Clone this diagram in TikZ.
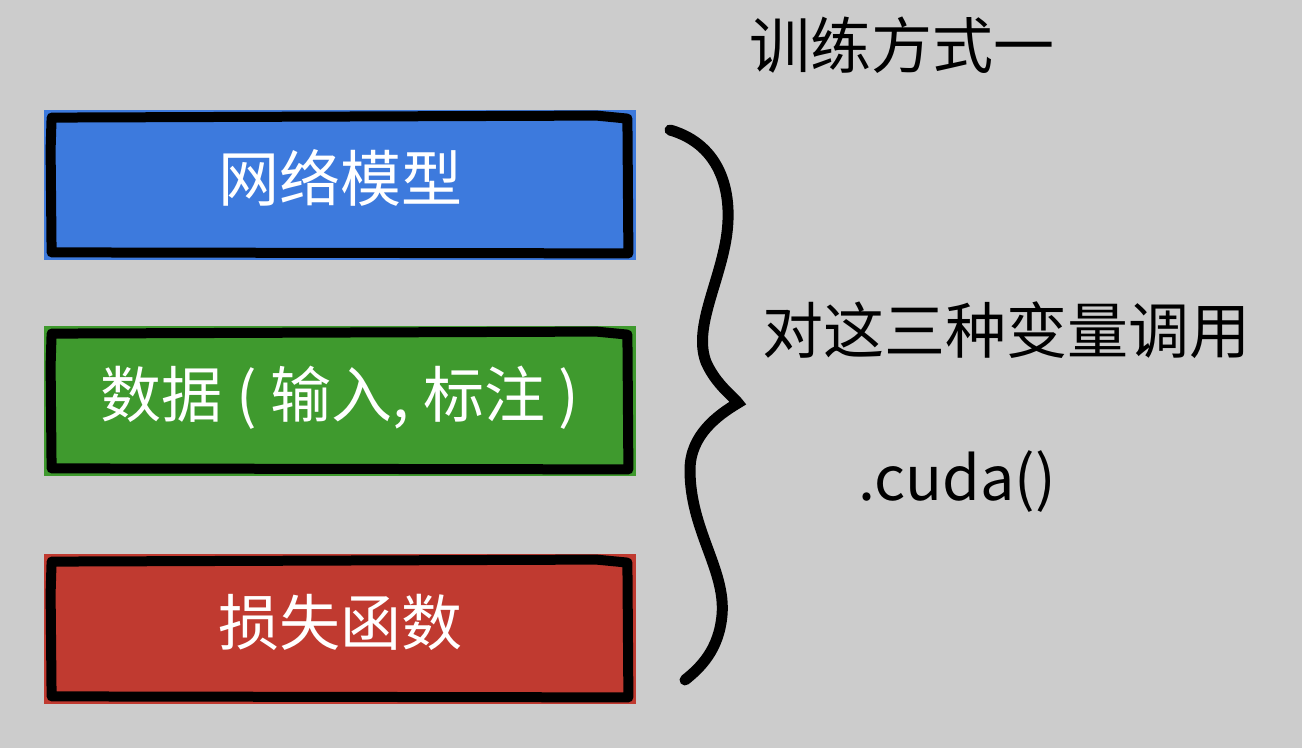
\documentclass[tikz,border=0pt]{standalone}
\usepackage{fontspec}
\setmainfont{Noto Sans CJK SC}
\definecolor{bg}{HTML}{CCCCCC}
\definecolor{boxblue}{HTML}{3D7ADD}
\definecolor{boxgreen}{HTML}{3F9A2E}
\definecolor{boxred}{HTML}{C03A30}
\tikzset{
  card/.style={minimum width=296pt, minimum height=75pt, inner sep=0pt, text=white,
    text height=27pt, text depth=10.5pt,
    font=\fontsize{30.5}{36}\selectfont},
  rough/.style={draw=black, line width=5pt, line join=round, line cap=round},
  label/.style={font=\fontsize{30.5}{36}\selectfont, text=black, inner sep=0pt},
}
\begin{document}
\begin{tikzpicture}[x=0.5pt,y=-0.5pt]
\fill[bg] (0,0) rectangle (1302,748);
\useasboundingbox (0,0) rectangle (1302,748);

\node[card, fill=boxblue]  (net)  at (340,185) {网络模型};
\node[card, fill=boxgreen] (data) at (340,401) {数据 ( 输入, 标注 )};
\node[card, fill=boxred]   (loss) at (340,629) {损失函数};

\foreach \n in {net,data,loss}{
  \draw[rough] ([shift={(8,8)}]\n.north west) -- ([shift={(-40,6)}]\n.north east)
    -- ([shift={(-9,9)}]\n.north east) -- ([shift={(-8,-7)}]\n.south east)
    -- ([shift={(8,-8)}]\n.south west) -- ([shift={(7,40)}]\n.north west) -- cycle;
}

\coordinate (btop) at (670,130);
\coordinate (btip) at (738,403);
\coordinate (bbot) at (685,680);
\draw[line width=5.5pt, line cap=round, line join=miter] (btop)
  .. controls (722,145) and (735,195) .. (725,245)
  .. controls (716,290) and (694,330) .. (706,362)
  .. controls (716,385) and (735,398) .. (btip)
  .. controls (718,415) and (690,435) .. (690,470)
  .. controls (690,530) and (726,570) .. (722,615)
  .. controls (719,650) and (700,668) .. (bbot);

\node[label] (title) at (902,45) {训练方式一};
\node[label] (call)  at (1006,330) {对这三种变量调用};
\node[label] (cuda)  at (957,482) {.cuda()};
\end{tikzpicture}
\end{document}
